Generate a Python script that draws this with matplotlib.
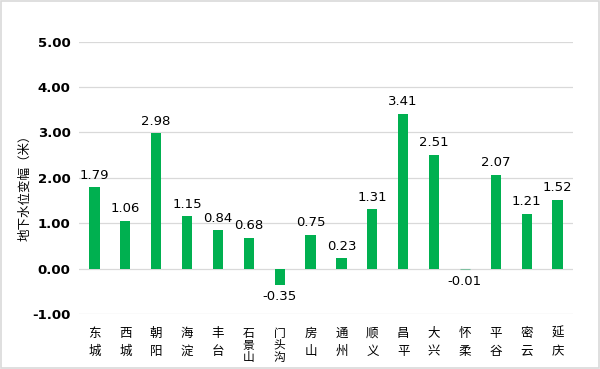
import matplotlib
matplotlib.use("Agg")
import matplotlib.pyplot as plt
from matplotlib.patches import Rectangle

plt.rcParams['font.family'] = ['Noto Sans CJK SC', 'DejaVu Sans']

districts = ["东城", "西城", "朝阳", "海淀", "丰台", "石景山", "门头沟", "房山",
             "通州", "顺义", "昌平", "大兴", "怀柔", "平谷", "密云", "延庆"]
changes = [1.79, 1.06, 2.98, 1.15, 0.84, 0.68, -0.35, 0.75,
           0.23, 1.31, 3.41, 2.51, -0.01, 2.07, 1.21, 1.52]
yticks = [-1, 0, 1, 2, 3, 4, 5]

green = "#00B050"

fig = plt.figure(figsize=(6, 3.69), dpi=100)
ax = fig.add_axes([79 / 600, 1 - 314 / 369, 494 / 600, (314 - 41.7) / 369])

x = list(range(len(districts)))
bars = ax.bar(x, changes, width=0.33, color=green, zorder=3)
# tiny bar: give it an outline so it stays visible, like the reference
bars[12].set_edgecolor("#7FBFA0")
bars[12].set_linewidth(0.8)

ax.set_xlim(-0.5, len(districts) - 0.5)
ax.set_ylim(-1, 5)
ax.set_yticks(yticks)
ax.set_yticklabels([f"{v:.2f}" for v in yticks], fontsize=9.5, fontweight="bold",
                   family="DejaVu Sans")
ax.tick_params(axis="y", length=0, pad=6)
ax.set_xticks([])
ax.grid(axis="y", color="#D9D9D9", linewidth=0.9, zorder=0)
for s in ax.spines.values():
    s.set_visible(False)

# value labels
for xi, v in zip(x, changes):
    if v >= 0:
        ax.annotate(f"{v:.2f}", (xi, v), xytext=(0, 4), textcoords="offset points",
                    ha="center", va="bottom", fontsize=9.5, family="DejaVu Sans")
    else:
        ax.annotate(f"{v:.2f}", (xi, v), xytext=(0, -4), textcoords="offset points",
                    ha="center", va="top", fontsize=9.5, family="DejaVu Sans")

# vertical category labels
for xi, name in zip(x, districts):
    lbl = "\n".join(name)
    if len(name) == 2:
        ax.annotate(lbl, (xi, -1), xytext=(0, -9), textcoords="offset points",
                    ha="center", va="top", fontsize=9, linespacing=1.55)
    else:
        ax.annotate(lbl, (xi, -1), xytext=(0, -9), textcoords="offset points",
                    ha="center", va="top", fontsize=8.5, linespacing=0.92)

fig.text(25 / 600, 1 - 185 / 369, "地下水位变幅（米）", rotation=90,
         ha="center", va="center", fontsize=9)

fig.patches.append(Rectangle((0.002, 0.003), 0.996, 0.994, transform=fig.transFigure,
                             fill=False, edgecolor="#D9D9D9", linewidth=1.2))

fig.savefig("out.png", dpi=100)
